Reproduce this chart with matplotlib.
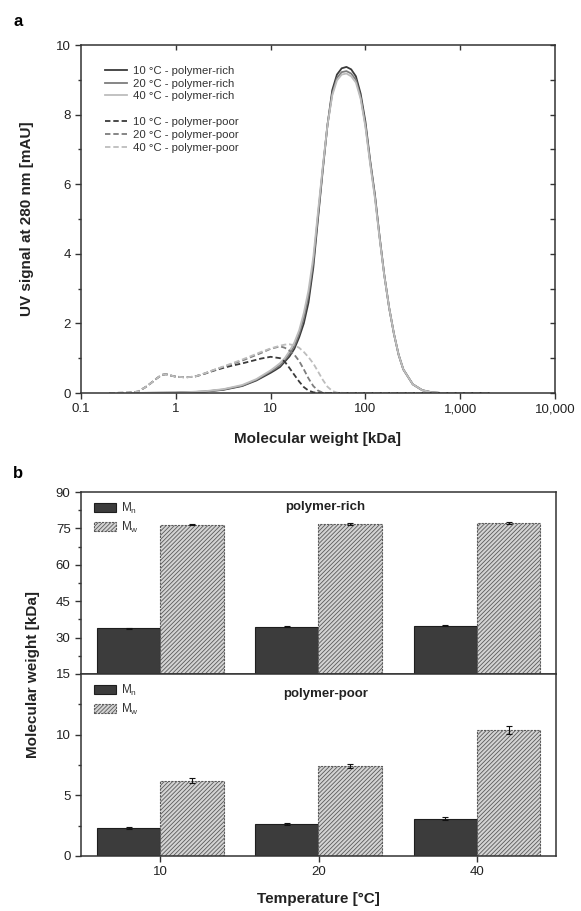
import numpy as np
import matplotlib
matplotlib.use("Agg")
import matplotlib.pyplot as plt
from matplotlib.lines import Line2D
from matplotlib.ticker import FixedLocator, NullLocator, MultipleLocator

plt.rcParams['font.family'] = ['Liberation Sans', 'DejaVu Sans']
plt.rcParams['mathtext.default'] = 'regular'
plt.rcParams['hatch.color'] = '#5a5a5a'
plt.rcParams['hatch.linewidth'] = 0.6

# ---- panel a: SEC traces ----
mw_rich = [0.316, 1.0, 2.0, 3.16, 5.01, 7.08, 10, 11.2, 12.6, 14.1, 15.8, 17.8, 20.0,
           22.4, 25.1, 28.2, 31.6, 35.5, 39.8, 44.7, 50.1, 56.2, 63.1, 70.8, 79.4,
           89.1, 100, 112, 126, 141, 158, 178, 200, 224, 251, 316, 398, 501, 631,
           1000, 2000]
rich_10 = [0, 0.01, 0.04, 0.09, 0.2, 0.36, 0.58, 0.66, 0.75, 0.9, 1.05, 1.27, 1.6,
           2.0, 2.6, 3.6, 5.0, 6.4, 7.7, 8.7, 9.15, 9.33, 9.37, 9.3, 9.1,
           8.6, 7.8, 6.7, 5.7, 4.5, 3.4, 2.45, 1.7, 1.1, 0.68, 0.25, 0.08, 0.02, 0,
           0, 0]
rich_20 = [0, 0.01, 0.04, 0.1, 0.21, 0.38, 0.62, 0.7, 0.8, 0.95, 1.12, 1.35, 1.7,
           2.15, 2.8, 3.75, 5.1, 6.45, 7.7, 8.6, 9.05, 9.22, 9.25, 9.18, 9.0,
           8.5, 7.7, 6.65, 5.65, 4.5, 3.4, 2.45, 1.7, 1.1, 0.68, 0.25, 0.08, 0.02, 0,
           0, 0]
rich_40 = [0, 0.01, 0.05, 0.11, 0.23, 0.4, 0.65, 0.75, 0.86, 1.0, 1.2, 1.45, 1.8,
           2.3, 2.95, 3.9, 5.2, 6.5, 7.7, 8.55, 8.98, 9.15, 9.18, 9.1, 8.92,
           8.45, 7.65, 6.6, 5.6, 4.45, 3.38, 2.45, 1.7, 1.1, 0.68, 0.25, 0.08, 0.02, 0,
           0, 0]

mw_poor = [0.2, 0.32, 0.4, 0.5, 0.63, 0.71, 0.79, 0.89, 1.0, 1.26, 1.58, 2.0, 2.51,
           3.16, 3.98, 5.01, 6.31, 7.94, 10, 12.6, 14.1, 15.8, 17.8, 20.0, 22.4,
           25.1, 28.2, 31.6, 35.5, 39.8, 44.7, 50.1, 63.1, 100, 316, 2000]
poor_10 = [0, 0.01, 0.04, 0.2, 0.42, 0.52, 0.54, 0.5, 0.47, 0.45, 0.47, 0.55, 0.64,
           0.72, 0.79, 0.85, 0.92, 0.99, 1.04, 1.0, 0.9, 0.72, 0.52, 0.33, 0.17,
           0.07, 0.02, 0, 0, 0, 0, 0, 0, 0, 0, 0]
poor_20 = [0, 0.01, 0.04, 0.2, 0.42, 0.52, 0.54, 0.5, 0.47, 0.45, 0.47, 0.56, 0.66,
           0.75, 0.84, 0.93, 1.04, 1.15, 1.27, 1.34, 1.3, 1.22, 1.1, 0.92, 0.68,
           0.42, 0.2, 0.07, 0.01, 0, 0, 0, 0, 0, 0, 0]
poor_40 = [0, 0.01, 0.04, 0.2, 0.42, 0.52, 0.54, 0.5, 0.47, 0.45, 0.47, 0.56, 0.66,
           0.76, 0.86, 0.96, 1.07, 1.18, 1.28, 1.36, 1.39, 1.4, 1.37, 1.3, 1.18,
           1.03, 0.85, 0.62, 0.38, 0.18, 0.06, 0.01, 0, 0, 0, 0]

temps_a = ['10', '20', '40']
grays = ['#3a3a3a', '#7d7d7d', '#bdbdbd']

# ---- panel b: Mn / Mw bars ----
temps = ['10', '20', '40']
mn_rich = [33.8, 34.4, 34.8]
mn_rich_err = [0.2, 0.2, 0.2]
mw_rich_b = [76.6, 76.9, 77.3]
mw_rich_err = [0.3, 0.3, 0.3]
mn_poor = [2.27, 2.6, 3.08]
mn_poor_err = [0.08, 0.08, 0.1]
mw_poor_b = [6.2, 7.43, 10.4]
mw_poor_err = [0.2, 0.18, 0.35]

W, H = 581, 911
fig = plt.figure(figsize=(W / 100, H / 100), dpi=100)

def px(x0, y0, x1, y1):
    # pixel box (left, top, right, bottom) -> figure fraction rect
    return [x0 / W, 1 - y1 / H, (x1 - x0) / W, (y1 - y0) / H]

spine_c = '#333333'

# ================= panel a =================
ax = fig.add_axes(px(81, 45, 555, 393))
rich = [rich_10, rich_20, rich_40]
poor = [poor_10, poor_20, poor_40]
handles = []
for t, y, c in zip(temps_a, rich, grays):
    h, = ax.plot(mw_rich, y, color=c, lw=1.3, label=f'{t} °C - polymer-rich')
    handles.append(h)
handles.append(Line2D([], [], color='none', label=' '))
for t, y, c in zip(temps_a, poor, grays):
    h, = ax.plot(mw_poor, y, color=c, lw=1.3, ls=(0, (3, 1.6)),
                 label=f'{t} °C - polymer-poor')
    handles.append(h)

ax.set_xscale('log')
ax.set_xlim(0.1, 10000)
ax.set_ylim(0, 10)
ax.xaxis.set_major_locator(FixedLocator([0.1, 1, 10, 100, 1000, 10000]))
ax.xaxis.set_minor_locator(NullLocator())
ax.set_xticklabels(['0.1', '1', '10', '100', '1,000', '10,000'])
ax.yaxis.set_major_locator(MultipleLocator(2))
ax.yaxis.set_minor_locator(MultipleLocator(1))
ax.tick_params(axis='both', which='major', direction='out', length=4, width=1,
               labelsize=9.5, color=spine_c, labelcolor='#222222')
ax.tick_params(axis='y', which='minor', direction='out', length=2.5, width=1, color=spine_c)
for s in ax.spines.values():
    s.set_color(spine_c)
    s.set_linewidth(1.1)

top = ax.secondary_xaxis('top')
top.set_xticks([1, 10, 100, 1000])
top.xaxis.set_minor_locator(NullLocator())
top.tick_params(direction='in', length=3.5, width=1, labeltop=False, color=spine_c)
top.spines['top'].set_visible(False)
right = ax.secondary_yaxis('right')
right.yaxis.set_major_locator(MultipleLocator(1))
right.tick_params(direction='in', length=3.5, width=1, labelright=False, color=spine_c)
right.spines['right'].set_visible(False)

ax.legend(handles=handles, loc='upper left', bbox_to_anchor=(0.03, 0.97),
          frameon=False, fontsize=8.2, handlelength=1.9, handletextpad=0.5,
          labelspacing=0.25, labelcolor='#333333')

fig.text(27.5 / W, 1 - 219 / H, 'UV signal at 280 nm [mAU]', rotation=90,
         ha='center', va='center', fontsize=11, fontweight='bold', color='#222222')
fig.text(318 / W, 1 - 439 / H, 'Molecular weight [kDa]', ha='center', va='center',
         fontsize=11, fontweight='bold', color='#222222')
fig.text(18 / W, 1 - 22 / H, 'a', ha='center', va='center', fontsize=12,
         fontweight='bold')

# ================= panel b =================
axt = fig.add_axes(px(81, 492, 556, 674))
axb = fig.add_axes(px(81, 674, 556, 856))
x = np.arange(len(temps))
bw = 0.4
mn_col = '#3c3c3c'
mw_col = '#d4d4d4'

for a, mn, mne, mw, mwe, title, ty in [
        (axt, mn_rich, mn_rich_err, mw_rich_b, mw_rich_err, 'polymer-rich', 0.92),
        (axb, mn_poor, mn_poor_err, mw_poor_b, mw_poor_err, 'polymer-poor', 0.89)]:
    a.bar(x - bw / 2, mn, bw, color=mn_col, edgecolor='#1e1e1e', lw=0.8,
          yerr=mne, capsize=2, error_kw=dict(elinewidth=0.8, capthick=0.8, ecolor='#111111'),
          label='M$_n$')
    a.bar(x + bw / 2, mw, bw, color=mw_col, edgecolor='#5a5a5a', lw=0.8,
          hatch='////////', ls=(0, (2, 1)),
          yerr=mwe, capsize=2, error_kw=dict(elinewidth=0.8, capthick=0.8, ecolor='#111111'),
          label='M$_w$')
    a.set_xlim(-0.5, 2.5)
    a.legend(loc='upper left', bbox_to_anchor=(0.005, 1.01), frameon=False, fontsize=8.5,
             handlelength=1.9, handleheight=0.8, handletextpad=0.4, labelspacing=0.3,
             labelcolor='#333333')
    a.text(0.515, ty, title, transform=a.transAxes, ha='center', va='center',
           fontsize=9.5, fontweight='bold', color='#222222')
    for s in a.spines.values():
        s.set_color(spine_c)
        s.set_linewidth(1.1)
    a.tick_params(axis='y', which='major', direction='out', length=4, width=1,
                  labelsize=9.5, color=spine_c, labelcolor='#222222')
    a.tick_params(axis='y', which='minor', direction='out', length=2.5, width=1,
                  color=spine_c)

axt.set_ylim(15, 90)
axt.yaxis.set_major_locator(MultipleLocator(15))
axt.yaxis.set_minor_locator(MultipleLocator(7.5))
axt.set_xticks([])

axb.set_ylim(0, 15)
axb.set_yticks([0, 5, 10])
axb.yaxis.set_minor_locator(FixedLocator([2.5, 7.5, 12.5]))
axb.set_xticks(x)
axb.set_xticklabels(temps)
axb.tick_params(axis='x', direction='out', length=4, width=1, labelsize=9.5,
                color=spine_c, labelcolor='#222222')

fig.text(33 / W, 1 - 674 / H, 'Molecular weight [kDa]', rotation=90,
         ha='center', va='center', fontsize=11, fontweight='bold', color='#222222')
fig.text(318 / W, 1 - 899 / H, 'Temperature [°C]', ha='center', va='center',
         fontsize=11, fontweight='bold', color='#222222')
fig.text(18 / W, 1 - 473 / H, 'b', ha='center', va='center', fontsize=12,
         fontweight='bold')

fig.savefig('out.png', dpi=100)
